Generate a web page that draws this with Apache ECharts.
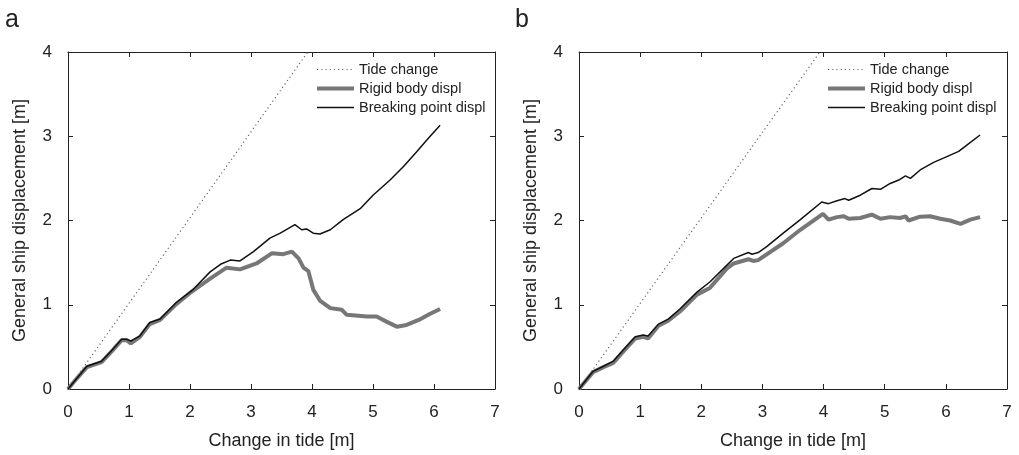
<!DOCTYPE html>
<html>
<head>
<meta charset="utf-8">
<script src="https://cdn.jsdelivr.net/npm/echarts@6/dist/echarts.min.js"></script>
<style>
html,body{margin:0;padding:0;background:#fff;}
#chart{width:1019px;height:455px;}
</style>
</head>
<body>
<div id="chart"></div>
<script>
// ---- data ----
const panelLabels = ['a', 'b'];
const seriesNames = ['Tide change', 'Rigid body displ', 'Breaking point displ'];
const xTicks = [0, 1, 2, 3, 4, 5, 6, 7];
const yTicks = [0, 1, 2, 3, 4];

const tideA = [[0, 0], [1.87, 1.90], [3.93, 4.0]];
const rigidA = [[0,0],[0.15,0.13],[0.31,0.26],[0.55,0.32],[0.72,0.45],[0.88,0.58],[0.96,0.58],[1.03,0.54],[1.18,0.62],[1.34,0.77],[1.51,0.82],[1.78,1.01],[2.0,1.14],[2.33,1.31],[2.60,1.44],[2.82,1.42],[3.09,1.49],[3.34,1.61],[3.53,1.60],[3.67,1.63],[3.78,1.55],[3.86,1.44],[3.94,1.40],[4.02,1.18],[4.13,1.05],[4.30,0.96],[4.49,0.94],[4.57,0.88],[4.90,0.86],[5.06,0.86],[5.22,0.80],[5.39,0.74],[5.55,0.76],[5.75,0.82],[5.93,0.89],[6.10,0.95]];
const breakA = [[0,0],[0.15,0.13],[0.31,0.27],[0.55,0.33],[0.72,0.46],[0.88,0.59],[0.96,0.59],[1.03,0.57],[1.18,0.63],[1.34,0.79],[1.51,0.83],[1.78,1.03],[2.05,1.18],[2.33,1.39],[2.50,1.48],[2.66,1.53],[2.82,1.52],[3.04,1.63],[3.31,1.79],[3.48,1.85],[3.72,1.95],[3.83,1.89],[3.91,1.90],[4.02,1.85],[4.13,1.84],[4.30,1.89],[4.51,2.01],[4.79,2.14],[5.0,2.30],[5.28,2.48],[5.5,2.64],[5.72,2.82],[5.9,2.97],[6.10,3.13]];

const tideB = [[0, 0], [1.87, 1.90], [3.94, 4.0]];
const rigidB = [[0,0],[0.23,0.2],[0.40,0.26],[0.56,0.31],[0.73,0.45],[0.92,0.60],[1.05,0.62],[1.13,0.60],[1.30,0.75],[1.46,0.81],[1.65,0.92],[1.93,1.12],[2.14,1.2],[2.42,1.43],[2.53,1.49],[2.77,1.54],[2.85,1.52],[2.93,1.53],[3.34,1.73],[3.62,1.89],[3.99,2.08],[4.08,2.01],[4.22,2.04],[4.33,2.05],[4.41,2.02],[4.60,2.03],[4.79,2.07],[4.93,2.02],[5.09,2.04],[5.25,2.03],[5.34,2.05],[5.39,2.00],[5.58,2.045],[5.74,2.05],[5.91,2.02],[6.07,2.00],[6.24,1.96],[6.40,2.01],[6.56,2.04]];
const breakB = [[0,0],[0.23,0.21],[0.40,0.27],[0.56,0.33],[0.73,0.47],[0.92,0.62],[1.05,0.64],[1.13,0.63],[1.30,0.77],[1.46,0.83],[1.65,0.95],[1.93,1.15],[2.14,1.27],[2.42,1.47],[2.53,1.55],[2.77,1.62],[2.83,1.60],[2.93,1.62],[3.07,1.69],[3.34,1.85],[3.62,2.01],[3.97,2.22],[4.08,2.20],[4.22,2.235],[4.35,2.26],[4.41,2.24],[4.60,2.30],[4.79,2.38],[4.93,2.37],[5.09,2.44],[5.23,2.48],[5.34,2.53],[5.42,2.50],[5.58,2.60],[5.80,2.69],[5.96,2.74],[6.21,2.82],[6.37,2.91],[6.56,3.015]];

const xTitle = 'Change in tide [m]';
const yTitle = 'General ship displacement [m]';

// ---- styling / layout ----
const FONT = '"Liberation Sans", Arial, sans-serif';
const TXT = '#222';
const AXC = '#222';
const grids = [
  { left: 68, top: 52, width: 427, height: 337 },
  { left: 579, top: 52, width: 428, height: 337 }
];

const chart = echarts.init(document.getElementById('chart'), null, { renderer: 'canvas' });

const xAxes = [], yAxes = [];
grids.forEach((g, gi) => {
  const common = {
    type: 'value', gridIndex: gi,
    min: xTicks[0], max: xTicks[xTicks.length - 1], interval: 1,
    axisLine: { show: true, onZero: false, lineStyle: { color: AXC, width: 1 } },
    axisTick: { show: true, inside: true, length: 5, lineStyle: { color: AXC } },
    splitLine: { show: false }
  };
  xAxes.push(Object.assign({}, common, {
    position: 'bottom',
    name: xTitle, nameLocation: 'middle', nameGap: 43,
    nameTextStyle: { fontFamily: FONT, fontSize: 18, color: TXT },
    axisLabel: { fontFamily: FONT, fontSize: 17, color: TXT, margin: 15 }
  }));
  xAxes.push(Object.assign({}, common, {
    position: 'top', axisLabel: { show: false }
  }));
  const ycommon = {
    type: 'value', gridIndex: gi,
    min: yTicks[0], max: yTicks[yTicks.length - 1], interval: 1,
    axisLine: { show: true, onZero: false, lineStyle: { color: AXC, width: 1 } },
    axisTick: { show: true, inside: true, length: 5, lineStyle: { color: AXC } },
    splitLine: { show: false }
  };
  yAxes.push(Object.assign({}, ycommon, {
    position: 'left',
    name: yTitle, nameLocation: 'middle', nameGap: 39, nameRotate: 90,
    nameTextStyle: { fontFamily: FONT, fontSize: 18, color: TXT },
    axisLabel: { fontFamily: FONT, fontSize: 17, color: TXT, margin: 16 }
  }));
  yAxes.push(Object.assign({}, ycommon, {
    position: 'right', axisLabel: { show: false }
  }));
});

const styles = {
  tide: { color: '#666', width: 1.2, type: [1.2, 3] },
  rigid: { color: '#777', width: 4, type: 'solid' },
  brk: { color: '#111', width: 1.5, type: 'solid' }
};
const kinds = ['tide', 'rigid', 'brk'];

function mk(name, data, gi, kind) {
  const s = styles[kind];
  return {
    name: name, type: 'line', data: data,
    xAxisIndex: gi * 2, yAxisIndex: gi * 2,
    showSymbol: false, symbol: 'none', smooth: false,
    lineStyle: { color: s.color, width: s.width, type: s.type },
    itemStyle: { color: s.color },
    z: kind === 'brk' ? 4 : (kind === 'rigid' ? 3 : 2),
    animation: false, silent: true
  };
}

const series = [
  mk(seriesNames[0], tideA, 0, 'tide'),
  mk(seriesNames[1], rigidA, 0, 'rigid'),
  mk(seriesNames[2], breakA, 0, 'brk'),
  mk(seriesNames[0], tideB, 1, 'tide'),
  mk(seriesNames[1], rigidB, 1, 'rigid'),
  mk(seriesNames[2], breakB, 1, 'brk')
];

function legendAt(left) {
  return {
    orient: 'vertical', left: left, top: 62, padding: 0,
    itemWidth: 37, itemHeight: 14, itemGap: 4,
    itemStyle: { opacity: 0, color: 'rgba(0,0,0,0)', borderColor: 'rgba(0,0,0,0)', borderWidth: 0 },
    data: seriesNames.map((n, i) => ({
      name: n,
      itemStyle: { opacity: 0, color: 'rgba(0,0,0,0)', borderColor: 'rgba(0,0,0,0)', borderWidth: 0 },
      lineStyle: { width: styles[kinds[i]].width, color: styles[kinds[i]].color, type: styles[kinds[i]].type, opacity: 1 }
    })),
    textStyle: { fontFamily: FONT, fontSize: 14.5, color: TXT },
    selectedMode: false
  };
}

chart.setOption({
  backgroundColor: '#fff',
  animation: false,
  grid: grids.map(g => Object.assign({ containLabel: false }, g)),
  xAxis: xAxes,
  yAxis: yAxes,
  legend: [legendAt(315), legendAt(826)],
  graphic: [
    { type: 'text', left: 5, top: 8, style: { text: panelLabels[0], font: '25px ' + FONT, fill: TXT } },
    { type: 'text', left: 515, top: 8, style: { text: panelLabels[1], font: '25px ' + FONT, fill: TXT } }
  ],
  series: series
});
</script>
</body>
</html>
